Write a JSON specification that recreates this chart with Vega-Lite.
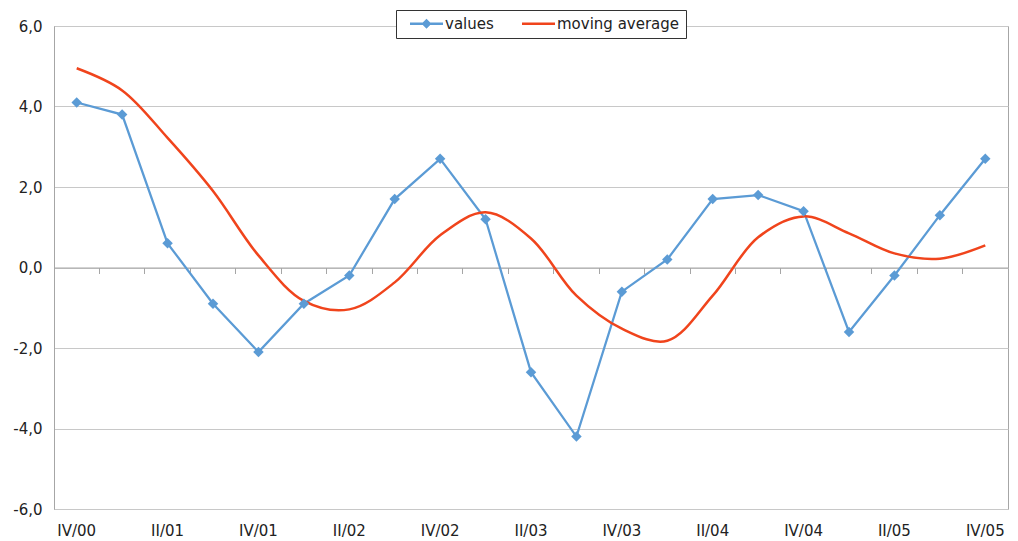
{
  "$schema": "https://vega.github.io/schema/vega-lite/v6.json",
  "width": 954,
  "height": 483,
  "autosize": {"type": "none"},
  "padding": {"left": 54, "top": 26, "right": 10, "bottom": 32},
  "background": "white",
  "config": {
    "view": {"stroke": "#a6a6a6", "strokeWidth": 1},
    "font": "DejaVu Sans",
    "axis": {"labelFont": "DejaVu Sans", "labelFontSize": 15, "labelColor": "#222222"},
    "legend": {
      "orient": "none", "direction": "horizontal", "legendX": 342, "legendY": -16,
      "fillColor": "white", "strokeColor": "#333333", "padding": 6,
      "symbolSize": 1089, "symbolStrokeWidth": 0, "symbolOpacity": 1,
      "labelFont": "DejaVu Sans", "labelFontSize": 15, "labelColor": "#222222",
      "labelOffset": 2, "columnPadding": 20, "symbolOffset": 8, "clipHeight": 15
    }
  },
  "data": {
    "values": [
      {"q": "IV/00", "series": "values", "v": 4.1}, {"q": "IV/00", "series": "moving average", "v": 4.95},
      {"q": "I/01", "series": "values", "v": 3.8}, {"q": "I/01", "series": "moving average", "v": 4.4},
      {"q": "II/01", "series": "values", "v": 0.6}, {"q": "II/01", "series": "moving average", "v": 3.22},
      {"q": "III/01", "series": "values", "v": -0.9}, {"q": "III/01", "series": "moving average", "v": 1.9},
      {"q": "IV/01", "series": "values", "v": -2.1}, {"q": "IV/01", "series": "moving average", "v": 0.3},
      {"q": "I/02", "series": "values", "v": -0.9}, {"q": "I/02", "series": "moving average", "v": -0.83},
      {"q": "II/02", "series": "values", "v": -0.2}, {"q": "II/02", "series": "moving average", "v": -1.04},
      {"q": "III/02", "series": "values", "v": 1.7}, {"q": "III/02", "series": "moving average", "v": -0.37},
      {"q": "IV/02", "series": "values", "v": 2.7}, {"q": "IV/02", "series": "moving average", "v": 0.8},
      {"q": "I/03", "series": "values", "v": 1.2}, {"q": "I/03", "series": "moving average", "v": 1.37},
      {"q": "II/03", "series": "values", "v": -2.6}, {"q": "II/03", "series": "moving average", "v": 0.72},
      {"q": "III/03", "series": "values", "v": -4.2}, {"q": "III/03", "series": "moving average", "v": -0.7},
      {"q": "IV/03", "series": "values", "v": -0.6}, {"q": "IV/03", "series": "moving average", "v": -1.52},
      {"q": "I/04", "series": "values", "v": 0.2}, {"q": "I/04", "series": "moving average", "v": -1.82},
      {"q": "II/04", "series": "values", "v": 1.7}, {"q": "II/04", "series": "moving average", "v": -0.7},
      {"q": "III/04", "series": "values", "v": 1.8}, {"q": "III/04", "series": "moving average", "v": 0.75},
      {"q": "IV/04", "series": "values", "v": 1.4}, {"q": "IV/04", "series": "moving average", "v": 1.27},
      {"q": "I/05", "series": "values", "v": -1.6}, {"q": "I/05", "series": "moving average", "v": 0.85},
      {"q": "II/05", "series": "values", "v": -0.2}, {"q": "II/05", "series": "moving average", "v": 0.35},
      {"q": "III/05", "series": "values", "v": 1.3}, {"q": "III/05", "series": "moving average", "v": 0.22},
      {"q": "IV/05", "series": "values", "v": 2.7}, {"q": "IV/05", "series": "moving average", "v": 0.55}
    ]
  },
  "encoding": {
    "x": {
      "field": "q", "type": "ordinal",
      "scale": {"type": "band", "paddingInner": 0, "paddingOuter": 0,
        "domain": ["IV/00","I/01","II/01","III/01","IV/01","I/02","II/02","III/02","IV/02","I/03","II/03","III/03","IV/03","I/04","II/04","III/04","IV/04","I/05","II/05","III/05","IV/05"]}
    },
    "y": {
      "field": "v", "type": "quantitative",
      "scale": {"domain": [-6, 6], "nice": false, "zero": false},
      "axis": {
        "title": null, "values": [-6, -4, -2, 0, 2, 4, 6], "ticks": false,
        "grid": true, "gridColor": "#c8c8c8", "gridWidth": 1,
        "domain": true, "domainColor": "#a6a6a6", "domainWidth": 1,
        "labelPadding": 12,
        "labelExpr": "replace(replace(format(datum.value, '.1f'), '.', ','), '\u2212', '-')"
      }
    }
  },
  "layer": [
    {
      "transform": [{"filter": "datum.series === 'values'"}],
      "mark": {"type": "line", "strokeWidth": 2.25, "color": "#5b9bd5"},
      "encoding": {
        "x": {
          "field": "q", "type": "ordinal",
          "axis": {
            "orient": "bottom", "title": null, "labels": false, "grid": false,
            "domain": true, "domainColor": "#a6a6a6", "domainWidth": 1,
            "ticks": true, "bandPosition": 0, "tickColor": "#a6a6a6", "tickSize": 6, "tickWidth": 1,
            "offset": -241.5
          }
        }
      }
    },
    {
      "transform": [{"filter": "datum.series === 'moving average'"}],
      "mark": {"type": "line", "strokeWidth": 2.5, "interpolate": "catmull-rom", "color": "#f0441c"},
      "encoding": {
        "x": {
          "field": "q", "type": "ordinal",
          "axis": {
            "orient": "bottom", "title": null, "grid": false, "domain": false, "ticks": false,
            "labelPadding": 14, "labelAngle": 0,
            "values": ["IV/00","II/01","IV/01","II/02","IV/02","II/03","IV/03","II/04","IV/04","II/05","IV/05"]
          }
        }
      }
    },
    {
      "transform": [{"filter": "datum.series === 'values'"}],
      "mark": {"type": "point", "shape": "diamond", "filled": true, "size": 110, "color": "#5b9bd5", "opacity": 1},
      "encoding": {"x": {"field": "q", "type": "ordinal", "axis": null}}
    },
    {
      "mark": {"type": "point", "filled": true, "opacity": 0, "strokeWidth": 0},
      "encoding": {
        "x": {"field": "q", "type": "ordinal", "axis": null},
        "fill": {
          "field": "series", "type": "nominal",
          "scale": {"domain": ["values", "moving average"], "range": ["#5b9bd5", "#f0441c"]},
          "legend": {"title": null}
        },
        "shape": {
          "field": "series", "type": "nominal",
          "scale": {"domain": ["values", "moving average"], "range": [
            "M-1,-0.07L1,-0.07L1,0.07L-1,0.07ZM0,-0.3L0.3,0L0,0.3L-0.3,0Z",
            "M-1,-0.076L1,-0.076L1,0.076L-1,0.076Z"
          ]},
          "legend": {"title": null}
        }
      }
    }
  ],
  "resolve": {"axis": {"x": "independent"}}
}
